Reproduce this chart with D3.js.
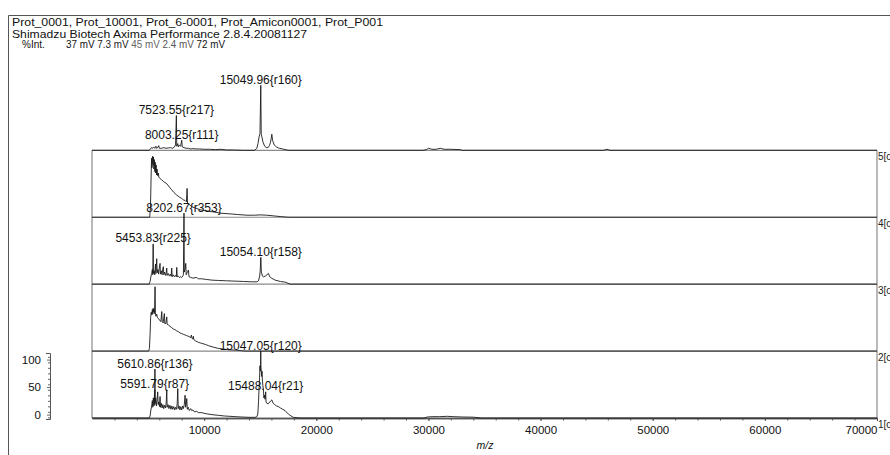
<!DOCTYPE html>
<html><head><meta charset="utf-8">
<script src="https://cdn.jsdelivr.net/npm/d3@7"></script>
<style>
body{margin:0;background:#fff}
svg{display:block;font-family:"Liberation Sans",Arial,sans-serif}
</style>
</head><body>
<svg id="c" width="890" height="455"></svg>
<script>
// ---------- DATA ----------
const headerLines = [
  "Prot_0001, Prot_10001, Prot_6-0001, Prot_Amicon0001, Prot_P001",
  "Shimadzu Biotech Axima Performance 2.8.4.20081127"
];
const yAxisTitle = "%Int.";
const voltages = ["37 mV", "7.3 mV", "45 mV", "2.4 mV", "72 mV"];
const spectrumNames = ["1[c]", "2[c]", "3[c]", "4[c]", "5[c]"];
const xTickValues = [10000, 20000, 30000, 40000, 50000, 60000, 70000];
const yTickValues = [0, 50, 100];
const xTitle = "m/z";

// [m/z, intensity %] — spectrum 1 is the bottom trace, 5 the top
const spec1 = [[0,0],[5100,0],[5180,3],[5250,12],[5320,18],[5380,26],[5420,16],[5470,30],[5520,18],[5570,34],[5591.79,42],[5600,20],[5610.86,73],[5625,22],[5680,30],[5740,18],[5800,27],[5860,39],[5900,20],[5960,24],[6020,17],[6068,32],[6110,16],[6180,22],[6250,15],[6320,20],[6400,14],[6470,19],[6560,15],[6620,24],[6666,42],[6700,16],[6780,20],[6860,14],[6950,19],[7040,13],[7120,18],[7200,13],[7290,17],[7380,12],[7460,16],[7540,13],[7600,22],[7648,44],[7690,14],[7760,18],[7840,12],[7920,17],[8000,12],[8080,18],[8150,14],[8230,20],[8300,34],[8350,16],[8400,20],[8450,29],[8500,13],[8580,16],[8680,11],[8800,14],[8897,11],[9000,12],[9150,9],[9300,10],[9500,8],[9790,8],[10000,7],[10300,6],[10700,5],[11270,4],[11800,3],[12300,2.5],[12760,2],[13300,1.5],[14000,1],[14546,1],[14700,2],[14787,6],[14850,25],[14900,45],[14940,60],[14980,78],[15010,70],[15030,80],[15047.05,100],[15065,76],[15090,72],[15120,62],[15160,70],[15200,55],[15240,48],[15287,42],[15330,30],[15380,34],[15430,28],[15488.04,39],[15520,24],[15590,22],[15700,21],[15800,23],[15885,24],[15960,26],[16035,27],[16150,22],[16300,20],[16450,18],[16625,17],[16800,15],[17000,13],[17223,11],[17500,6],[17750,3],[17965,1],[18560,0],[29600,0],[29900,1.5],[30400,2],[31000,2],[31680,2.5],[32200,2],[33000,1.5],[34000,1.2],[34780,0],[70000,0]];

const spec2 = [[0,0],[5050,0],[5120,4],[5180,25],[5230,50],[5280,58],[5330,54],[5380,62],[5420,55],[5460,64],[5500,58],[5540,62],[5580,56],[5622,96],[5650,57],[5700,52],[5770,55],[5830,50],[5917,49],[5980,47],[6060,46],[6140,44],[6220,59],[6260,44],[6340,42],[6455,56],[6490,41],[6580,41],[6666,51],[6700,40],[6810,39],[6950,37],[7100,35],[7250,33],[7400,32],[7560,30],[7700,29],[7850,27],[8000,26],[8150,25],[8300,24],[8450,23],[8600,22],[8745,21],[8820,20],[8870,24],[8920,19],[9000,18],[9040,22],[9080,17],[9250,15],[9500,13],[9790,11.5],[10100,10],[10400,8],[10800,6],[11270,4],[11700,3],[12200,2],[12760,1.5],[13650,0],[70000,0]];

const spec3 = [[0,0],[5100,0],[5180,4],[5260,12],[5320,16],[5380,22],[5420,14],[5453.83,60],[5480,16],[5540,20],[5600,14],[5660,30],[5700,16],[5770,38],[5810,17],[5880,22],[5940,15],[6000,24],[6068,31],[6100,15],[6180,20],[6250,14],[6300,22],[6365,26],[6400,14],[6480,18],[6560,13],[6620,17],[6663,24],[6700,13],[6800,16],[6900,12],[7000,15],[7060,12],[7110,24],[7150,11],[7250,14],[7350,11],[7450,13],[7520,11],[7556,25],[7600,11],[7700,12],[7800,10],[7900,11],[8000,10],[8100,12],[8150,14],[8202.67,106],[8230,18],[8300,22],[8360,31],[8400,14],[8480,17],[8597,21],[8650,11],[8800,10],[9000,9],[9300,10],[9500,8],[9790,8],[10200,7],[10700,6],[11270,5.5],[12000,5],[12760,4.5],[13500,4],[14200,3.5],[14697,3.5],[14850,5],[14950,12],[15000,20],[15054.10,40],[15100,18],[15200,12],[15287,11],[15450,12],[15600,14],[15733,16],[15850,11],[16000,9],[16330,6],[16800,4],[17223,3],[17670,0],[70000,0]];

const spec4 = [[0,0],[5150,0],[5220,20],[5270,60],[5310,88],[5350,74],[5400,91],[5440,78],[5480,90],[5520,72],[5560,86],[5600,68],[5640,82],[5680,66],[5720,78],[5760,63],[5800,72],[5850,62],[5917,66],[5960,60],[6050,58],[6200,56],[6400,53],[6666,50],[6900,45],[7100,41],[7300,37],[7559,33],[7800,30],[8000,28],[8148,26],[8300,25],[8420,23],[8480,43],[8520,21],[8746,18],[9000,15],[9343,13],[9700,11],[10000,10],[10400,9],[10798,8],[11500,6],[12315,5],[13000,4],[13805,3],[14500,3],[15000,3.5],[15590,3],[16200,2],[16777,1],[17500,0],[70000,0]];

const spec5 = [[0,0],[5100,0],[5200,2],[5300,4],[5400,3],[5500,5],[5600,3],[5700,6],[5760,3],[5850,4],[5950,7],[6000,3],[6200,3],[6400,4],[6600,3],[6800,3.5],[7000,4],[7200,3],[7350,5],[7450,8],[7523.55,52],[7560,6],[7650,10],[7700,5],[7800,8],[7900,6],[8003.25,15],[8050,5],[8200,4],[8400,3],[8600,3],[8800,2],[9000,2.5],[9300,2],[9600,2],[10000,1.5],[10500,1.5],[11000,1],[11500,1.5],[12000,0.5],[12500,0.5],[13500,0],[14500,0],[14700,3],[14800,10],[14900,20],[14980,25],[15049.96,97],[15090,24],[15150,20],[15250,12],[15400,6],[15550,4],[15700,4],[15820,7],[15920,12],[15980,18],[16035,24],[16100,15],[16250,8],[16450,5],[16700,3],[17000,2],[17500,0],[29500,0],[29800,1],[30015,3],[30300,1.5],[30700,1.5],[31055,3],[31400,1.5],[32000,1.5],[32840,1],[33000,0],[45600,0],[45930,1.5],[46200,0],[70000,0]];

const peakLabels = [
  {spec:5, mz:15049.96, text:"15049.96{r160}"},
  {spec:5, mz:7523.55,  text:"7523.55{r217}"},
  {spec:5, mz:8003.25,  text:"8003.25{r111}"},
  {spec:3, mz:8202.67,  text:"8202.67{r353}"},
  {spec:3, mz:5453.83,  text:"5453.83{r225}"},
  {spec:3, mz:15054.10, text:"15054.10{r158}"},
  {spec:1, mz:15047.05, text:"15047.05{r120}"},
  {spec:1, mz:5610.86,  text:"5610.86{r136}"},
  {spec:1, mz:5591.79,  text:"5591.79{r87}"},
  {spec:1, mz:15488.04, text:"15488.04{r21}"}
];

// ---------- DRAW ----------
const spectra = [spec1, spec2, spec3, spec4, spec5];
const svg = d3.select("#c");
svg.append("rect").attr("width", 890).attr("height", 455).attr("fill", "#fff");

// outer border
svg.append("path").attr("d", "M8.5,455V15.5H890").attr("fill", "none")
   .attr("stroke", "#555").attr("stroke-width", 1);

// header
const hdrWidths = [371, 295];
headerLines.forEach((t, i) => svg.append("text")
  .attr("x", 12).attr("y", 26 + i * 11.5).attr("font-size", 10.7).attr("fill", "#111")
  .attr("textLength", hdrWidths[i]).attr("lengthAdjust", "spacingAndGlyphs").text(t));
svg.append("text").attr("x", 22).attr("y", 48).attr("font-size", 10).attr("fill", "#111").text(yAxisTitle);
const vt = svg.append("text").attr("x", 66).attr("y", 48).attr("font-size", 10)
  .attr("textLength", 159).attr("lengthAdjust", "spacingAndGlyphs");
const vColors = ["#111", "#222", "#666", "#555", "#111"];
voltages.forEach((v, i) => vt.append("tspan").attr("fill", vColors[i]).text((i ? " " : "") + v));

const x = d3.scaleLinear().domain([0, 70000]).range([92, 877]);
const base = d3.scaleLinear().domain([1, 5]).range([418, 150.3]);
const inten = d3.scaleLinear().domain([0, 100]).range([0, 67]);

// frame
const frame = svg.append("g").attr("stroke", "#8a8a8a").attr("stroke-width", 1.2).attr("fill", "none");
d3.range(2, 6).forEach(k => frame.append("line")
  .attr("x1", x(0)).attr("x2", x(70000)).attr("y1", base(k)).attr("y2", base(k)));
[0, 70000].forEach(v => frame.append("line")
  .attr("x1", x(v)).attr("x2", x(v)).attr("y1", base(5)).attr("y2", base(1)));

// x axis
const xg = svg.append("g").attr("transform", `translate(0,${base(1)})`);
xg.call(d3.axisBottom(x).tickValues(d3.range(2000, 70001, 2000)).tickSize(2.5).tickSizeOuter(0).tickFormat(""));
const xg2 = svg.append("g").attr("transform", `translate(0,${base(1)})`);
xg2.call(d3.axisBottom(x).tickValues(xTickValues).tickSize(3).tickSizeOuter(0).tickPadding(5).tickFormat(d3.format("d")));
[xg, xg2].forEach(g => {
  g.select(".domain").attr("stroke", "#555").attr("stroke-width", 1.3);
  g.selectAll(".tick line").attr("stroke", "#555");
});
xg2.selectAll("text").attr("font-size", 11.5).attr("fill", "#111").attr("font-family", "Liberation Sans, Arial, sans-serif");
xg2.selectAll(".tick").filter(d => d === 70000).select("text").attr("text-anchor", "end").attr("dx", 0);
svg.append("text").attr("x", 485).attr("y", 449).attr("text-anchor", "middle")
   .attr("font-size", 10.5).attr("font-style", "italic").attr("fill", "#111").text(xTitle);

// y axis (intensity of bottom trace)
const ya = d3.scaleLinear().domain([-8, 112]).range([419, 353]);
const yg = svg.append("g").attr("transform", "translate(50,0)");
yg.call(d3.axisLeft(ya).tickValues(d3.range(-5, 111, 10)).tickSize(2).tickSizeOuter(4).tickFormat(""));
const yg2 = svg.append("g").attr("transform", "translate(50,0)");
yg2.call(d3.axisLeft(ya).tickValues(yTickValues).tickSize(3).tickSizeOuter(0).tickPadding(6));
yg2.select(".domain").remove();
[yg, yg2].forEach(g => {
  g.selectAll(".domain").attr("stroke", "#555");
  g.selectAll(".tick line").attr("stroke", "#666");
});
yg2.selectAll("text").attr("font-size", 11.5).attr("fill", "#111").attr("font-family", "Liberation Sans, Arial, sans-serif");

// spectra
const line = d3.line();
spectra.forEach((s, i) => {
  const k = i + 1;
  svg.append("path")
    .attr("d", line(s.map(p => [x(p[0]), base(k) - inten(p[1])])))
    .attr("fill", "none").attr("stroke", "#1a1a1a").attr("stroke-width", 0.9)
    .attr("stroke-linejoin", "round");
});

// right spectrum ids
spectrumNames.forEach((n, i) => svg.append("text").attr("x", 878).attr("y", base(i + 1) + 10)
  .attr("font-size", 10).attr("fill", "#222").text(n));

// peak labels
peakLabels.forEach(l => {
  const pt = spectra[l.spec - 1].find(p => p[0] === l.mz);
  svg.append("text").attr("x", x(l.mz)).attr("y", base(l.spec) - inten(pt[1]) - 1.5)
    .attr("text-anchor", "middle").attr("font-size", 12).attr("fill", "#111").text(l.text);
});
</script>
</body></html>
